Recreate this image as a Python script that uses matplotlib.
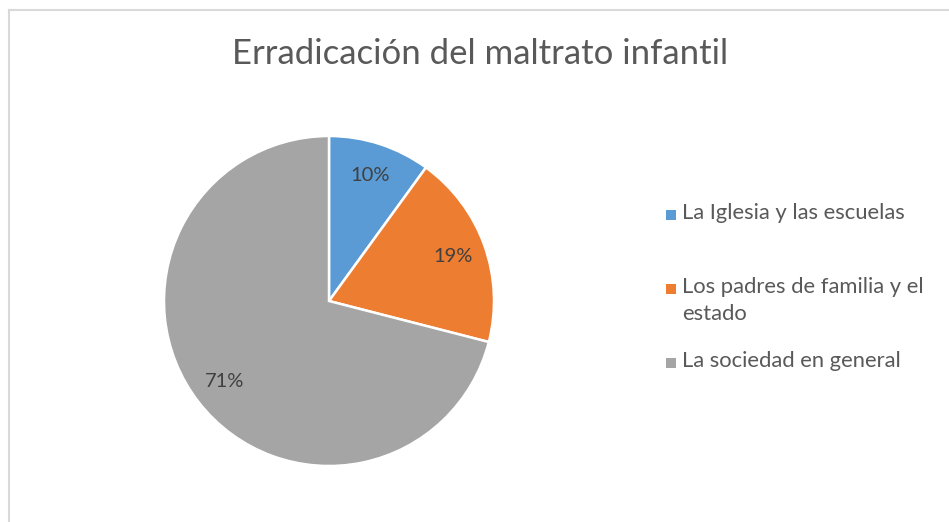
import matplotlib
matplotlib.use("Agg")
import matplotlib.pyplot as plt
from matplotlib.patches import Rectangle
from matplotlib.lines import Line2D

title = "Erradicación del maltrato infantil"
categories = ["La Iglesia y las escuelas",
              "Los padres de familia y el\nestado",
              "La sociedad en general"]
shares = [10, 19, 71]
colors = ["#5B9BD5", "#ED7D31", "#A5A5A5"]

plt.rcParams['font.family'] = ['Lato', 'DejaVu Sans']

fig = plt.figure(figsize=(9.49, 5.22), dpi=100)

# frame of the chart area (only left and top visible in the crop)
fig.add_artist(Line2D([8.5 / 949, 8.5 / 949], [0, 1 - 9.5 / 522], transform=fig.transFigure,
                      color="#D9D9D9", lw=1.5))
fig.add_artist(Line2D([8.5 / 949, 1], [1 - 9.5 / 522, 1 - 9.5 / 522], transform=fig.transFigure,
                      color="#D9D9D9", lw=1.5))

# pie axes: centre (329, 301), radius 165 px
ax = fig.add_axes([164 / 949, (522 - 466) / 522, 330 / 949, 330 / 522])
wedges, texts, autotexts = ax.pie(shares, colors=colors, startangle=90, counterclock=False,
                                  autopct="%d%%", pctdistance=0.8,
                                  wedgeprops=dict(edgecolor="white", linewidth=1.8),
                                  textprops=dict(color="#404040", fontsize=14.5))
ax.set_xlim(-1, 1)
ax.set_ylim(-1, 1)
ax.set_aspect("equal")
ax.axis("off")

fig.text(480 / 949, 1 - 54 / 522, title, ha="center", va="center",
         fontsize=25, color="#595959")

# legend, drawn by hand so the marker sits on the first line of a wrapped label
legend_y = [215, 289, 363]
for label, c, y in zip(categories, colors, legend_y):
    fig.add_artist(Rectangle((666 / 949, 1 - (y + 5) / 522), 10 / 949, 10 / 522,
                             transform=fig.transFigure, facecolor=c, edgecolor="none"))
    fig.text(682 / 949, 1 - (y - 12) / 522, label, ha="left", va="top",
             fontsize=15.8, color="#595959", linespacing=1.45)

fig.savefig("out.png", dpi=100)
